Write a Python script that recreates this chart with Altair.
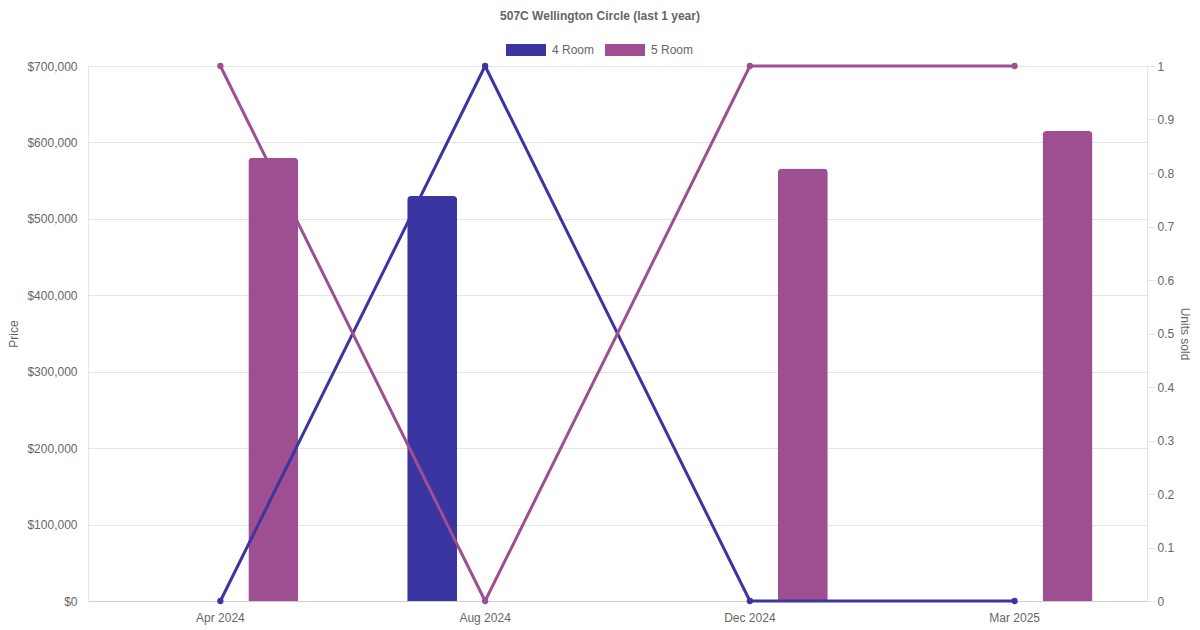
import altair as alt
import pandas as pd

months = ["Apr 2024", "Aug 2024", "Dec 2024", "Mar 2025"]
room_types = ["4 Room", "5 Room"]
price_4room = [None, 530000, None, None]
price_5room = [580000, None, 566000, 615000]
units_4room = [0, 1, 0, 0]
units_5room = [1, 0, 1, 1]
colors = ["#3a35a0", "#9e4f92"]
price_ticks = [0, 100000, 200000, 300000, 400000, 500000, 600000, 700000]
unit_ticks = [0, 0.1, 0.2, 0.3, 0.4, 0.5, 0.6, 0.7, 0.8, 0.9, 1]

bar_rows = []
line_rows = []
for i, m in enumerate(months):
    for rt, prices, units in [("4 Room", price_4room, units_4room), ("5 Room", price_5room, units_5room)]:
        if prices[i] is not None:
            bar_rows.append({"month": m, "type": rt, "price": prices[i]})
        line_rows.append({"month": m, "type": rt, "units": units[i]})
bars_df = pd.DataFrame(bar_rows)
lines_df = pd.DataFrame(line_rows)

FONT = "Liberation Sans"
GRAY = "#666666"
GRID = "#e5e5e5"

x_enc = alt.X("month:N", sort=months, title=None,
              scale=alt.Scale(domain=months, paddingInner=0, paddingOuter=0),
              axis=alt.Axis(labelAngle=0, ticks=False, tickSize=0, labelPadding=11,
                            domainColor="#cfcfcf", grid=False))
color_scale = alt.Scale(domain=room_types, range=colors)

bars = alt.Chart(bars_df).mark_bar(cornerRadiusTopLeft=4, cornerRadiusTopRight=4).encode(
    x=x_enc,
    xOffset=alt.XOffset("type:N", scale=alt.Scale(domain=room_types, paddingInner=0.528, paddingOuter=0.514)),
    y=alt.Y("price:Q", title="Price",
            scale=alt.Scale(domain=[0, 700000], nice=False),
            axis=alt.Axis(values=price_ticks, format="$,.0f", ticks=False, tickSize=0, labelPadding=11,
                          grid=True, gridColor=GRID, domainColor=GRID, titlePadding=6)),
    color=alt.Color("type:N", scale=color_scale, title=None,
                    legend=alt.Legend(orient="none", legendX=418, legendY=-36, direction="horizontal",
                                      symbolType="M-1,-0.3H1V0.3H-1Z", symbolSize=1600,
                                      symbolStrokeWidth=0, labelFont=FONT, labelFontSize=12,
                                      labelColor=GRAY, labelOffset=6, columnPadding=10, padding=0)),
)

lines = alt.Chart(lines_df).mark_line(
    strokeWidth=3,
    point=alt.OverlayMarkDef(filled=True, size=40, opacity=1),
).encode(
    x=alt.X("month:N", sort=months),
    y=alt.Y("units:Q", title="Units sold",
            scale=alt.Scale(domain=[0, 1], nice=False),
            axis=alt.Axis(orient="right", values=unit_ticks, format="~g", grid=False, ticks=True,
                          tickSize=8, tickColor=GRID, domainColor=GRID, labelPadding=2, titlePadding=4)),
    color=alt.Color("type:N", scale=color_scale, legend=None),
)

chart = alt.layer(bars, lines).resolve_scale(y="independent").properties(
    width=1059, height=535,
    padding={"left": 80, "top": 58, "right": 45, "bottom": 27},
    autosize=alt.AutoSizeParams(type="none"),
    title=alt.TitleParams("507C Wellington Circle (last 1 year)", font=FONT, fontSize=12,
                          fontWeight="bold", color=GRAY, anchor="middle", frame="group",
                          dx=-17.5, offset=-5, baseline="bottom"),
).configure_view(stroke=None).configure_axis(
    labelFont=FONT, labelFontSize=12, labelColor=GRAY,
    titleFont=FONT, titleFontSize=12, titleColor=GRAY, titleFontWeight="normal",
)

chart.save("out.html", embed_options={"renderer": "svg", "actions": False})
